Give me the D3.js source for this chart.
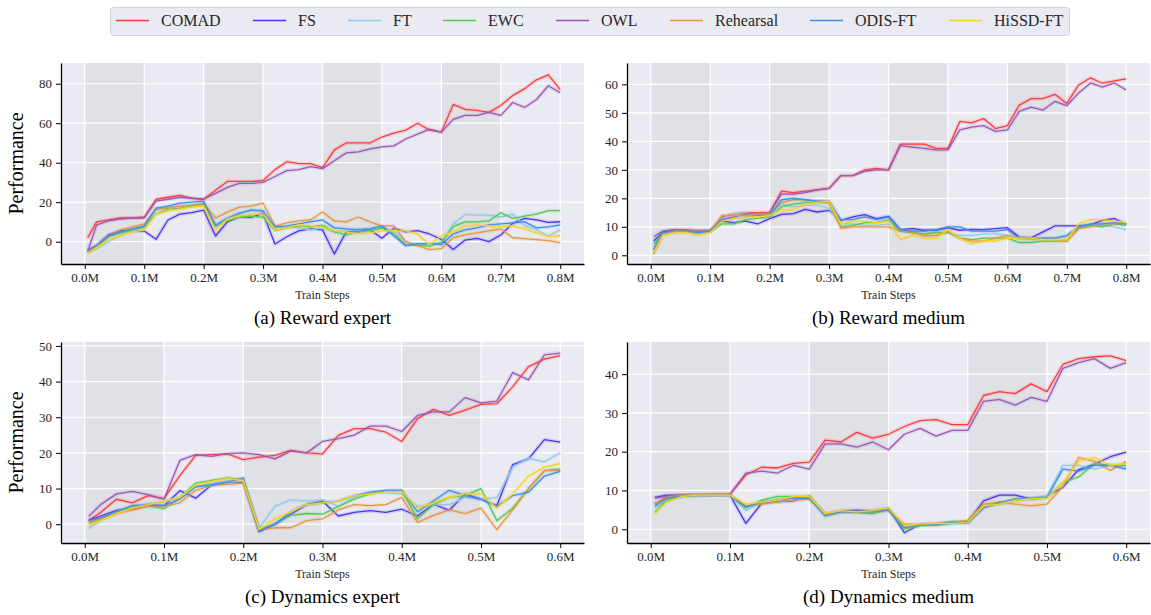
<!DOCTYPE html>
<html>
<head>
<meta charset="utf-8">
<script src="https://cdn.jsdelivr.net/npm/d3@7"></script>
<style>
  body { margin: 0; background: #fff; }
  svg { display: block; font-family: "Liberation Serif", "Times New Roman", serif; }
</style>
</head>
<body>
<svg id="chart" width="1151" height="615"></svg>
<script>
// legend order
const seriesNames = ["COMAD", "FS", "FT", "EWC", "OWL", "Rehearsal", "ODIS-FT", "HiSSD-FT"];
const seriesColors = ["#ff3b3b", "#4b35f0", "#8ecbec", "#4fcb4f", "#9b59b6", "#e8963f", "#3b8eea", "#f7d31e"];

// train steps (millions)
const stepsLong = [0.005, 0.02, 0.04, 0.06, 0.08, 0.10, 0.12, 0.14, 0.16, 0.18, 0.20,
  0.22, 0.24, 0.26, 0.28, 0.30, 0.32, 0.34, 0.36, 0.38, 0.40,
  0.42, 0.44, 0.46, 0.48, 0.50, 0.52, 0.54, 0.56, 0.58, 0.60,
  0.62, 0.64, 0.66, 0.68, 0.70, 0.72, 0.74, 0.76, 0.78, 0.80];
const stepsShort = [0.005, 0.02, 0.04, 0.06, 0.08, 0.10, 0.12, 0.14, 0.16, 0.18, 0.20,
  0.22, 0.24, 0.26, 0.28, 0.30, 0.32, 0.34, 0.36, 0.38, 0.40,
  0.42, 0.44, 0.46, 0.48, 0.50, 0.52, 0.54, 0.56, 0.58, 0.60];

const ticksLong = [0, 0.1, 0.2, 0.3, 0.4, 0.5, 0.6, 0.7, 0.8];
const ticksShort = [0, 0.1, 0.2, 0.3, 0.4, 0.5, 0.6];

// (a) Reward expert
const comadA = [2, 10, 11, 12, 12, 12.5, 21.5, 22.5, 23.5, 22, 21.5, 26, 30.5, 30.5, 30.5, 31, 36.5, 40.5, 39.5, 39.5, 37.5, 46.5, 50, 50, 50, 53, 55, 56.5, 60, 56.5, 55.5, 69.5, 67, 66.5, 65.5, 69, 74, 77.5, 82, 84.5, 77];
const fsA = [-4.5, -2, 3.4, 5.6, 5.6, 5.4, 1.2, 11, 14, 14.7, 16, 2.9, 10, 12.7, 12.3, 14.3, -1.2, 2.5, 5.5, 6.5, 6, -6.2, 5, 5, 6, 1.7, 6.8, 5, 5.6, 3.9, 1.2, -3.9, 0.8, 1.7, 0, 3.4, 9.3, 11.8, 11, 9.8, 10.1];
const ftA = [-5, -3.5, 0, 3.5, 5.5, 7, 16, 17.5, 18, 18.5, 19, 9, 12, 14, 16, 16, 7, 7.5, 7, 6, 7, 5, 5.5, 6.5, 6.5, 7.5, 5.5, 0, -2, -1, -0.5, 9, 13.8, 13.5, 13.5, 12.5, 14, 8, 6, 3, 6];
const ewcA = [-5.5, -3, 2.5, 4.5, 6, 7.5, 14, 16.5, 17, 18, 19, 8, 10.5, 12.5, 13, 12.3, 5.6, 7, 8, 7.5, 8.4, 5, 3.4, 5, 5.6, 6.8, 4.2, -1.7, -1.7, -2.2, -0.5, 7.6, 10, 10, 10.5, 14.7, 11.8, 13, 14, 15.7, 15.7];
const owlA = [-5, 8.5, 10.5, 11.5, 12, 12, 20.5, 21.5, 22.5, 22, 21.5, 24.5, 27.5, 29.5, 29.5, 30, 33, 36, 36.5, 38, 37, 41, 45, 45.5, 47, 48, 48.5, 52, 54.5, 57, 55.5, 62, 64, 64, 65.5, 64, 70.5, 68, 72, 79, 75.5];
const rehA = [-5.5, -2, 3, 6, 7.5, 9, 16.5, 17, 18, 18.5, 19.5, 12, 15, 17.5, 18, 19.5, 8, 9.5, 10.5, 11, 15, 10.5, 10, 12.5, 10, 8, 8, 0, -2, -4, -3.5, 2, 3.5, 4.5, 5.5, 6.5, 2, 1.5, 1, 0.5, -0.5];
const odisA = [-4.5, -2, 3, 5, 6.5, 8, 17, 18, 19.5, 20, 20.5, 8, 12, 14.5, 16, 15.5, 7.5, 8, 9, 10, 11, 7, 6.5, 6, 6.5, 8, 3, -2, -1, -1, -1.5, 4, 6, 7, 8.5, 9, 9.5, 10, 7, 7.5, 8.5];
const hissdA = [-6, -3, 1, 3, 5, 6, 14, 15.5, 16.5, 17.5, 18, 6, 11.5, 13, 14, 14, 6, 7, 8.5, 8, 7.5, 5.5, 5, 4, 4.5, 5.5, 5.5, 5.5, 4, -1.5, 3, 5, 8, 8.5, 8, 7.5, 8, 6.5, 4.5, 2.5, 3];

// (b) Reward medium
const comadB = [2, 8, 9, 9, 8.5, 8.5, 13.5, 14.5, 15, 15, 15, 22.5, 22, 22.5, 23, 23.5, 28, 28, 30, 30.5, 30, 39, 39, 39, 37.5, 37.5, 47, 46.5, 48, 44.5, 45.5, 52.7, 55, 55, 56.5, 53.3, 59.8, 62.3, 60.4, 61.2, 61.9];
const fsB = [5, 8, 8.5, 8.5, 8.5, 8.5, 12, 11.5, 12, 11, 12.9, 14.4, 14.6, 16.1, 15.2, 15.8, 12.3, 13.5, 14.3, 12.9, 13.7, 9, 9.4, 8.8, 8.8, 9.6, 8.8, 9.1, 9, 9.4, 9.7, 6.4, 6.1, 8.2, 10.3, 10.3, 10.3, 10.8, 12.3, 12.9, 10.9];
const ftB = [3, 7.5, 8.5, 8.5, 7.5, 8.5, 13, 14.5, 15, 14, 14, 18, 17, 17.5, 17.5, 16.5, 11, 11, 10.5, 10.5, 11, 8.5, 8.5, 6.5, 7, 8, 7, 7, 7.5, 7.5, 7, 6, 5.5, 6, 6, 6.5, 9.5, 10.5, 10.5, 10, 9];
const ewcB = [4, 7.5, 8, 8.5, 8, 8.5, 11, 11, 12.5, 13, 13.5, 17, 18, 18.5, 18.5, 18.5, 10, 10.5, 11.5, 11.5, 12.5, 8.5, 8, 7.5, 8, 8, 6, 5.5, 6, 6, 6, 4.5, 4.5, 5, 5, 5, 9.5, 10.5, 10, 11, 10.5];
const owlB = [6.5, 8.5, 9, 8.5, 8.5, 8.5, 12.5, 13.5, 14.5, 14.5, 15, 21.5, 21.5, 22, 23, 23.5, 28, 28, 29.5, 30, 30, 38.5, 38, 37.5, 37, 37, 44, 45, 45.5, 43.5, 44, 50.5, 52, 51, 54, 52.5, 57, 60.5, 59, 60.5, 58];
const rehB = [0.5, 7, 8.5, 8.5, 8.5, 8.5, 14, 14, 14, 14.5, 14.5, 18.5, 19.5, 19.5, 19, 18.5, 9.5, 10, 10, 10, 10, 8.5, 8, 7, 7, 8.5, 6, 5, 5, 6, 7, 6, 6, 5.5, 5.5, 5, 9.5, 10, 11, 11, 11.5];
const odisB = [2, 8, 8.5, 8.5, 8, 8.5, 12.5, 13, 13.5, 14, 14, 19.5, 20, 19.5, 19, 19, 12.5, 12.5, 13.5, 12.5, 13.5, 9, 8.5, 8.5, 9, 10, 10, 8.5, 8.5, 8.5, 9, 6, 6, 6, 6, 7, 10, 11, 11, 11.5, 11];
const hissdB = [1, 7, 8, 8, 7, 8, 12, 13, 13.5, 13.5, 14, 16, 16, 18, 18.5, 19, 11, 12, 12, 11.5, 12, 5.5, 7, 6, 6, 9, 6, 4, 5, 5, 6, 6, 6, 5.5, 5.5, 5.5, 11, 12.5, 12.5, 12, 11.5];

// (c) Dynamics expert
const comadC = [1, 3.3, 7, 6, 8, 7.2, 13.6, 19.3, 19.5, 19.7, 18.1, 18.8, 19.3, 20.7, 20, 19.7, 24.9, 26.8, 26.8, 25.8, 23.2, 29.6, 32.2, 30.5, 32, 33.6, 33.8, 38.5, 44.2, 46.3, 47.3];
const fsC = [1.1, 2.3, 3.9, 4.2, 5.2, 5.2, 9.4, 7.3, 11, 12, 11.7, -2.1, 0, 2.8, 5.5, 6.5, 2.3, 3.3, 3.8, 3.3, 4.2, 2.3, 5.6, 3.9, 8.5, 7, 5.2, 16.7, 18.3, 23.7, 23];
const ftC = [-1.2, 1, 3, 4.8, 5.8, 6.3, 7.5, 10.5, 11.5, 12, 12, -1, 5, 6.8, 6.5, 6.8, 5, 7.5, 8.8, 8.8, 8.5, 5, 5.5, 5.5, 7.5, 7, 7.5, 16, 18.5, 17.5, 20];
const ewcC = [0.2, 1.5, 3.5, 5, 5.3, 4.3, 7.5, 11.5, 12.3, 13, 12.5, -1.5, 0, 2.5, 3, 2.8, 5, 7, 8.5, 9.5, 9.5, 1.5, 5.5, 7.5, 8, 10, 1, 4.5, 10, 15, 15.5];
const owlC = [2.2, 5.5, 8.5, 9.2, 8.3, 7, 17.9, 19.5, 19, 19.8, 20, 19.5, 18.3, 20.5, 20, 23.2, 24, 25, 27.5, 27.5, 26, 30.5, 31.5, 31.5, 35.5, 34, 34.5, 42.5, 40.5, 47.5, 48];
const rehC = [0.5, 1.5, 3, 4, 5, 5, 6, 9.5, 10.8, 11.2, 11.5, -1.5, -1, -1, 1, 1.5, 4, 5.5, 5.2, 5.5, 7.5, 0.5, 2.5, 4, 3, 4.5, -1.5, 4, 10, 15, 15];
const odisC = [1, 1.8, 3.5, 5.2, 5.5, 5.3, 7, 10.5, 11, 11.8, 13, -1.8, 0, 3.5, 5.5, 6, 6.5, 8, 9, 9.5, 9.5, 3.5, 6.5, 9.5, 8, 7, 5, 8, 9, 13.5, 14.8];
const hissdC = [-0.3, 1, 3, 4.5, 5.5, 6.5, 7.5, 11, 12, 12.8, 12.3, -1.5, 1.5, 3.5, 5.5, 6, 6.5, 8, 8.5, 9, 9.2, 4.5, 6, 7.5, 8.5, 8.5, 4.5, 8.5, 13.5, 16, 17];

// (d) Dynamics medium
const comadD = [6.5, 8.3, 8.8, 8.8, 9, 9, 14, 16, 15.8, 17, 17.3, 23, 22.5, 25, 23.5, 24.5, 26.5, 28, 28.3, 27, 27, 34.5, 35.5, 35, 37.5, 35.5, 42.5, 44, 44.5, 44.7, 43.5];
const fsD = [8.2, 8.8, 8.8, 8.8, 8.8, 8.8, 1.5, 6.7, 7.1, 7.3, 8.5, 3.9, 4.7, 4.9, 4.7, 5.4, -0.9, 1.3, 1.3, 1.7, 1.9, 7.3, 8.8, 8.8, 7.8, 8.5, 10.8, 15.4, 16.8, 18.7, 19.9];
const ftD = [5.5, 7.5, 8.5, 8.5, 8.8, 8.8, 4.8, 7, 7.8, 8.2, 8, 3.3, 4.3, 4.5, 4.5, 5, 0.5, 1, 1.5, 2, 2, 6, 7, 7.5, 8, 8.5, 16.5, 16.5, 15.5, 16.5, 16];
const ewcD = [4.3, 7.5, 8.5, 8.8, 8.8, 8.8, 5.5, 7.5, 8.5, 8.5, 8.5, 3.8, 4.5, 4.3, 4, 5, 0, 1, 1, 1.5, 2, 6, 6.5, 7.5, 7.8, 8.2, 12, 13.5, 17, 16.5, 16.5];
const owlD = [8, 8.5, 8.8, 8.8, 8.8, 9, 14.5, 15, 14.5, 16.5, 15.5, 22, 22, 21.2, 22.5, 20.5, 24.5, 26, 24, 25.5, 25.5, 33, 33.5, 32, 34, 33, 41.5, 43, 44, 41.5, 43];
const rehD = [6.5, 8.3, 8.8, 9, 9, 8.8, 6, 6.5, 7, 7.5, 7.8, 4, 4.5, 4.5, 4.5, 5, 1.3, 1.3, 1.5, 1.8, 2.3, 6.5, 7, 6.5, 6, 6.5, 11, 18.5, 17.5, 15.2, 17.5];
const odisD = [6, 8, 8.5, 8.8, 8.8, 8.8, 5.8, 7, 7.5, 8, 8, 3.5, 4.5, 4.5, 4.5, 5, 0.5, 1, 1.3, 1.8, 1.5, 5.5, 6.8, 7.8, 8, 8.2, 15.5, 15, 16.5, 16.5, 15.5];
const hissdD = [4, 7, 8.5, 8.8, 8.8, 8.8, 6.5, 7, 7.5, 8.5, 8.5, 4, 4.8, 4.5, 4.8, 5.5, 1, 1.3, 1.5, 1.5, 1.7, 6, 6.5, 7.5, 7.8, 8, 12, 17.5, 18.5, 16.5, 17];

const panels = [
  { title: "(a) Reward expert", steps: stepsLong, xTicks: ticksLong,
    series: [comadA, fsA, ftA, ewcA, owlA, rehA, odisA, hissdA],
    left: 61, top: 63, yDomain: [-11.3, 90.5], yTicks: [0, 20, 40, 60, 80],
    bands: [[0, 0.1], [0.2, 0.3], [0.4, 0.5], [0.6, 0.7]], yLabel: true },
  { title: "(b) Reward medium", steps: stepsLong, xTicks: ticksLong,
    series: [comadB, fsB, ftB, ewcB, owlB, rehB, odisB, hissdB],
    left: 627, top: 63, yDomain: [-3.05, 67.5], yTicks: [0, 10, 20, 30, 40, 50, 60],
    bands: [[0, 0.1], [0.2, 0.3], [0.4, 0.5], [0.6, 0.7]], yLabel: false },
  { title: "(c) Dynamics expert", steps: stepsShort, xTicks: ticksShort,
    series: [comadC, fsC, ftC, ewcC, owlC, rehC, odisC, hissdC],
    left: 61, top: 342, yDomain: [-5.27, 51.1], yTicks: [0, 10, 20, 30, 40, 50],
    bands: [[0, 0.1], [0.2, 0.3], [0.4, 0.5]], yLabel: true },
  { title: "(d) Dynamics medium", steps: stepsShort, xTicks: ticksShort,
    series: [comadD, fsD, ftD, ewcD, owlD, rehD, odisD, hissdD],
    left: 627, top: 342, yDomain: [-3.55, 48.3], yTicks: [0, 10, 20, 30, 40],
    bands: [[0, 0.1], [0.2, 0.3], [0.4, 0.5]], yLabel: false }
];

const plotW = 523, plotH = 201;
const svg = d3.select("#chart");
const defs = svg.append("defs");

panels.forEach((p, pi) => {
  const xMax = p.xTicks[p.xTicks.length - 1];
  const x = d3.scaleLinear().domain([-0.05 * xMax, 1.05 * xMax]).range([p.left, p.left + plotW]);
  const y = d3.scaleLinear().domain(p.yDomain).range([p.top + plotH, p.top]);
  const g = svg.append("g");

  g.append("rect")
    .attr("x", p.left).attr("y", p.top)
    .attr("width", plotW).attr("height", plotH)
    .attr("fill", "#eaeaf2");

  g.selectAll(".band")
    .data(p.bands)
    .enter().append("rect")
    .attr("x", d => x(d[0]))
    .attr("y", p.top)
    .attr("width", d => x(d[1]) - x(d[0]))
    .attr("height", plotH)
    .attr("fill", "#e0e0e7");

  // grid
  g.selectAll(".hgrid")
    .data(p.yTicks)
    .enter().append("line")
    .attr("x1", p.left).attr("x2", p.left + plotW)
    .attr("y1", d => y(d)).attr("y2", d => y(d))
    .attr("stroke", "#ffffff").attr("stroke-width", 1.2);
  g.selectAll(".vgrid")
    .data(p.xTicks)
    .enter().append("line")
    .attr("y1", p.top).attr("y2", p.top + plotH)
    .attr("x1", d => x(d)).attr("x2", d => x(d))
    .attr("stroke", "#ffffff").attr("stroke-width", 1.2);

  defs.append("clipPath").attr("id", "clip" + pi)
    .append("rect")
    .attr("x", p.left).attr("y", p.top)
    .attr("width", plotW).attr("height", plotH);

  const lines = g.append("g").attr("clip-path", "url(#clip" + pi + ")");
  const lineGen = d3.line()
    .x((d, i) => x(p.steps[i]))
    .y(d => y(d));

  p.series.forEach((vals, si) => {
    // faint spread around each mean curve
    lines.append("path")
      .attr("d", lineGen(vals))
      .attr("fill", "none")
      .attr("stroke", seriesColors[si])
      .attr("stroke-opacity", 0.15)
      .attr("stroke-width", 4)
      .attr("stroke-linejoin", "round");
    lines.append("path")
      .attr("d", lineGen(vals))
      .attr("fill", "none")
      .attr("stroke", seriesColors[si])
      .attr("stroke-width", 1.3)
      .attr("stroke-linejoin", "round");
  });

  // axes
  const xAxis = g.append("g")
    .attr("transform", "translate(0," + (p.top + plotH) + ")")
    .call(d3.axisBottom(x).tickValues(p.xTicks).tickSize(5).tickSizeOuter(0).tickPadding(4)
      .tickFormat(d => d3.format(".1f")(d) + "M"));
  const yAxis = g.append("g")
    .attr("transform", "translate(" + p.left + ",0)")
    .call(d3.axisLeft(y).tickValues(p.yTicks).tickSize(5).tickSizeOuter(0).tickPadding(4));

  [xAxis, yAxis].forEach(ax => {
    ax.select(".domain").attr("stroke", "#000").attr("stroke-width", 1.3);
    ax.selectAll(".tick line").attr("stroke", "#000").attr("stroke-width", 1);
    ax.selectAll(".tick text")
      .attr("font-family", "Liberation Serif, serif")
      .attr("font-size", 13)
      .attr("fill", "#262626");
  });

  const cx = p.left + plotW / 2;
  g.append("text")
    .attr("x", x(xMax / 2)).attr("y", p.top + plotH + 35)
    .attr("text-anchor", "middle")
    .attr("font-size", 12).attr("fill", "#262626")
    .text("Train Steps");

  g.append("text")
    .attr("x", cx).attr("y", p.top + plotH + 60)
    .attr("text-anchor", "middle")
    .attr("font-size", 19).attr("fill", "#000")
    .text(p.title);

  if (p.yLabel) {
    g.append("text")
      .attr("transform", "translate(23," + (p.top + plotH / 2) + ") rotate(-90)")
      .attr("text-anchor", "middle")
      .attr("font-size", 20).attr("fill", "#000")
      .text("Performance");
  }
});

// legend
const legend = svg.append("g");
legend.append("rect")
  .attr("x", 110.5).attr("y", 7.5)
  .attr("width", 959).attr("height", 28)
  .attr("rx", 3)
  .attr("fill", "#eaeaf2")
  .attr("stroke", "#d2d2d8");

const legendX = [116, 253, 348, 443, 556, 670, 810, 949];
seriesNames.forEach((name, i) => {
  const lx = legendX[i];
  legend.append("line")
    .attr("x1", lx).attr("x2", lx + 33)
    .attr("y1", 20.5).attr("y2", 20.5)
    .attr("stroke", seriesColors[i]).attr("stroke-width", 1.6);
  legend.append("text")
    .attr("x", lx + 45).attr("y", 26)
    .attr("font-size", 16).attr("fill", "#262626")
    .text(name);
});
</script>
</body>
</html>
